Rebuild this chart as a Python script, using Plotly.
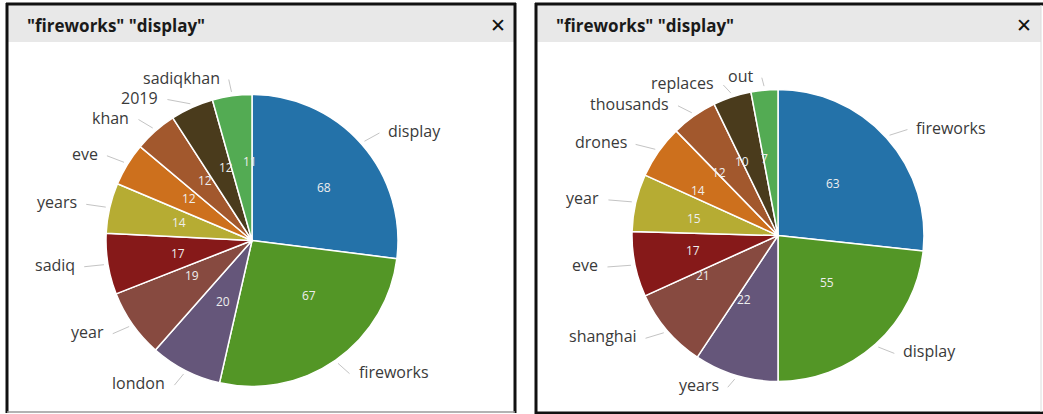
import math
import plotly.graph_objects as go

W, H = 1043, 414

# Word counts for the two panels
left_words = ["display", "fireworks", "london", "year", "sadiq", "years", "eve", "khan", "2019", "sadiqkhan"]
left_counts = [68, 67, 20, 19, 17, 14, 12, 12, 12, 11]

right_words = ["fireworks", "display", "years", "shanghai", "eve", "year", "drones", "thousands", "replaces", "out"]
right_counts = [63, 55, 22, 21, 17, 15, 14, 12, 10, 7]

panel_title = '"fireworks" "display"'

slice_colors = ["#2472a9", "#539626", "#65567a", "#874a40", "#861919",
                "#b6ac33", "#cd701d", "#a2582d", "#4a3b1c", "#53ab53"]

LABEL_SIZE = 16
VALUE_SIZE = 12

# Panel geometry in pixels: frame edges, pie centre, pie radius and the
# (slightly oval) ring on which labels and values are laid out
panels = [
    dict(x0=7, x1=515, cx=252, cy=240.5, r=146, rx=150, ry=142.5,
         words=left_words, counts=left_counts),
    dict(x0=536, x1=1041, cx=778, cy=235.5, r=146, rx=154, ry=138.5,
         words=right_words, counts=right_counts),
]


def px(x):
    return x / W


def py(y):
    return 1 - y / H


def text_width(s, size):
    return 0.52 * size * len(s)


fig = go.Figure()
shapes = []
annotations = []

for p in panels:
    cx, cy, r, rx, ry = p["cx"], p["cy"], p["r"], p["rx"], p["ry"]
    fig.add_trace(go.Pie(
        labels=p["words"],
        values=p["counts"],
        sort=False,
        direction="clockwise",
        rotation=0,
        marker=dict(colors=slice_colors, line=dict(color="white", width=1.5)),
        textinfo="none",
        hoverinfo="label+value",
        showlegend=False,
        domain=dict(x=[px(cx - r), px(cx + r)], y=[py(cy + r), py(cy - r)]),
    ))

    total = sum(p["counts"])
    acc = 0
    placed = []  # label boxes already laid out: (x_left, x_right, y)
    lab_rx, lab_ry = rx + 20, ry + 20
    slices = []
    for word, val in zip(p["words"], p["counts"]):
        mid = (acc + val / 2) / total * 2 * math.pi
        acc += val
        slices.append((word, val, math.sin(mid), -math.cos(mid)))

    # lay labels out from the top down so crowded ones slide away
    order = sorted(range(len(slices)), key=lambda i: slices[i][3])
    label_pos = {}
    for i in order:
        word, val, dx, dy = slices[i]
        ax, ay = cx + lab_rx * dx, cy + lab_ry * dy
        w = text_width(word, LABEL_SIZE)
        side = 1 if dx >= 0 else -1
        for _ in range(20):
            bx0 = ax + 7 if side > 0 else ax - 7 - w
            bx1 = bx0 + w
            clash = [q for q in placed
                     if q[0] < bx1 and bx0 < q[1] and abs(q[2] - ay) < 20]
            if not clash:
                break
            ay = max(q[2] for q in clash) + 20
            t = max(-1.0, min(1.0, (ay - cy) / lab_ry))
            ax = cx + side * lab_rx * math.sqrt(1 - t * t)
        placed.append((bx0, bx1, ay))
        label_pos[i] = (ax, ay, side)

    for i, (word, val, dx, dy) in enumerate(slices):
        # value inside the slice
        annotations.append(dict(
            x=px(cx + 0.56 * rx * dx), y=py(cy + 0.56 * ry * dy),
            xref="paper", yref="paper", showarrow=False,
            text=str(val), font=dict(family="Open Sans", size=VALUE_SIZE, color="#eeeeee"),
        ))

        # leader line and outer label
        ax, ay, side = label_pos[i]
        sx, sy = cx + (r + 4) * dx, cy + (r + 4) * dy
        shapes.append(dict(
            type="line", xref="paper", yref="paper",
            x0=px(sx), y0=py(sy), x1=px(ax), y1=py(ay),
            line=dict(color="#c4c4c4", width=1),
        ))
        annotations.append(dict(
            x=px(ax + 7 * side), y=py(ay - 2),
            xref="paper", yref="paper", showarrow=False,
            xanchor="left" if side > 0 else "right", yanchor="middle",
            text=word, font=dict(family="Open Sans", size=LABEL_SIZE, color="#3a3a3a"),
        ))

    # panel header band
    shapes.append(dict(type="rect", xref="paper", yref="paper",
                       x0=px(p["x0"]), x1=px(p["x1"]), y0=py(42), y1=py(4),
                       fillcolor="#e8e8e8", line=dict(width=0), layer="below"))
    annotations.append(dict(
        x=px(p["x0"] + 18), y=py(25), xref="paper", yref="paper", showarrow=False,
        xanchor="left", yanchor="middle", text="<b>" + panel_title + "</b>",
        font=dict(family="Open Sans", size=17, color="#1a1a1a"),
    ))
    annotations.append(dict(
        x=px(p["x1"] - 17), y=py(25), xref="paper", yref="paper", showarrow=False,
        xanchor="center", yanchor="middle", text="<b>✕</b>",
        font=dict(family="DejaVu Sans", size=19, color="#111111"),
    ))

# panel frames
frame = [
    (7, 3, 7, 413, "#111111", 3),        # left panel left
    (6, 4, 516, 4, "#111111", 3),        # left panel top
    (515, 3, 515, 413, "#111111", 3),    # left panel right
    (7, 412, 515, 412, "#9a9a9a", 1.5),  # left panel bottom
    (536, 3, 536, 414, "#111111", 3),    # right panel left
    (535, 4, 1043, 4, "#111111", 3),     # right panel top
    (535, 413, 1043, 413, "#111111", 3),  # right panel bottom
    (1041, 5, 1041, 412, "#dcdcdc", 1),  # right panel right
]
for x0, y0, x1, y1, c, w in frame:
    shapes.append(dict(type="line", xref="paper", yref="paper",
                       x0=px(x0), y0=py(y0), x1=px(x1), y1=py(y1),
                       line=dict(color=c, width=w)))

fig.update_layout(
    width=W, height=H, autosize=False,
    margin=dict(l=0, r=0, t=0, b=0),
    paper_bgcolor="white", plot_bgcolor="white",
    shapes=shapes, annotations=annotations,
)

fig.write_html("out.html")
